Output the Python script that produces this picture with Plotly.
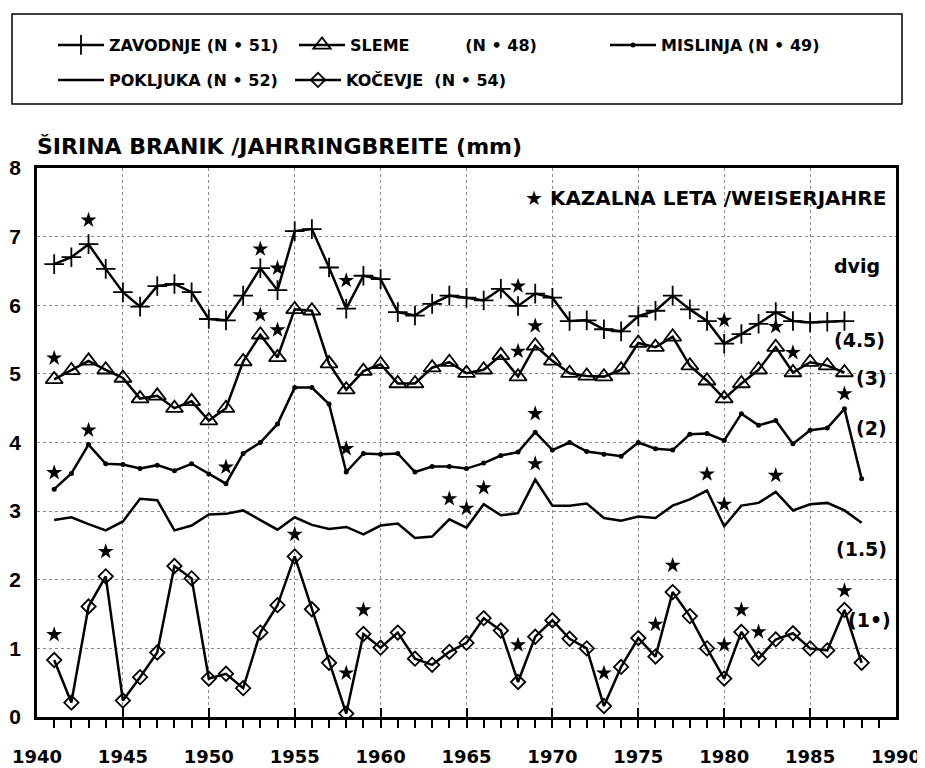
import plotly.graph_objects as go

# ---------------- data ----------------
years_a = list(range(1941, 1988))   # 1941..1987
years_b = list(range(1941, 1989))   # 1941..1988

zavodnje = [6.60, 6.70, 6.89, 6.53, 6.19, 5.98, 6.28, 6.31, 6.19, 5.80,
            5.78, 6.14, 6.54, 6.22, 7.08, 7.11, 6.55, 5.95, 6.43, 6.38,
            5.90, 5.85, 6.02, 6.14, 6.11, 6.07, 6.24, 5.99, 6.17, 6.11,
            5.77, 5.78, 5.65, 5.62, 5.84, 5.92, 6.14, 5.94, 5.77, 5.44,
            5.58, 5.73, 5.90, 5.77, 5.75, 5.76, 5.77]
sleme = [4.92, 5.05, 5.19, 5.06, 4.94, 4.64, 4.68, 4.50, 4.60, 4.32,
         4.50, 5.18, 5.57, 5.24, 5.94, 5.92, 5.15, 4.77, 5.04, 5.14,
         4.86, 4.86, 5.09, 5.17, 5.01, 5.06, 5.27, 4.96, 5.41, 5.19,
         5.01, 4.97, 4.96, 5.06, 5.45, 5.39, 5.54, 5.12, 4.90, 4.64,
         4.86, 5.06, 5.39, 5.02, 5.17, 5.12, 5.02]
mislinja = [3.32, 3.55, 3.97, 3.69, 3.68, 3.62, 3.67, 3.59, 3.69, 3.54,
            3.40, 3.84, 4.00, 4.27, 4.80, 4.80, 4.56, 3.57, 3.84, 3.83,
            3.84, 3.57, 3.65, 3.65, 3.62, 3.70, 3.81, 3.86, 4.15, 3.89,
            4.00, 3.87, 3.83, 3.80, 4.00, 3.91, 3.89, 4.12, 4.13, 4.03,
            4.42, 4.25, 4.32, 3.98, 4.18, 4.21, 4.49, 3.47]
pokljuka = [2.87, 2.91, 2.81, 2.72, 2.85, 3.18, 3.16, 2.72, 2.79, 2.95,
            2.96, 3.01, 2.87, 2.73, 2.91, 2.80, 2.74, 2.77, 2.66, 2.79,
            2.82, 2.61, 2.63, 2.88, 2.76, 3.10, 2.94, 2.97, 3.46, 3.08,
            3.08, 3.11, 2.90, 2.86, 2.92, 2.90, 3.08, 3.17, 3.30, 2.78,
            3.08, 3.12, 3.28, 3.01, 3.10, 3.12, 3.01, 2.83]
kocevje = [0.83, 0.21, 1.61, 2.05, 0.24, 0.58, 0.94, 2.20, 2.02, 0.56,
           0.63, 0.42, 1.23, 1.63, 2.34, 1.57, 0.79, 0.05, 1.21, 1.01,
           1.23, 0.85, 0.76, 0.95, 1.08, 1.44, 1.26, 0.51, 1.17, 1.41,
           1.14, 1.00, 0.16, 0.73, 1.15, 0.88, 1.82, 1.47, 1.00, 0.56,
           1.24, 0.85, 1.13, 1.22, 1.00, 0.97, 1.56, 0.79]

# pointer years (stars)
star_years = [1943, 1953, 1954, 1958, 1968, 1980,
              1941, 1953, 1954, 1968, 1969, 1983, 1984,
              1941, 1943, 1951, 1958, 1969, 1987,
              1964, 1965, 1966, 1969, 1979, 1980, 1983,
              1941, 1944, 1955, 1958, 1959, 1968, 1973, 1976, 1977, 1980, 1981, 1982, 1987]
star_values = [7.24, 6.82, 6.54, 6.36, 6.28, 5.78,
               5.23, 5.86, 5.64, 5.33, 5.70, 5.69, 5.31,
               3.56, 4.18, 3.64, 3.91, 4.42, 4.71,
               3.18, 3.04, 3.34, 3.69, 3.54, 3.10, 3.52,
               1.20, 2.41, 2.66, 0.64, 1.56, 1.05, 0.64, 1.35, 2.21, 1.05, 1.56, 1.24, 1.84]

NB = "\u00a0"
series_names = ["ZAVODNJE (N • 51)", "SLEME" + NB * 10 + "(N • 48)",
                "MISLINJA (N • 49)", "POKLJUKA (N • 52)", "KOČEVJE" + NB * 2 + "(N • 54)"]
offset_labels = ["dvig", "(4.5)", "(3)", "(2)", "(1.5)", "(1•)"]
offset_label_x = [1989.2, 1989.5, 1989.6, 1989.6, 1989.6, 1989.8]
offset_label_y = [6.57, 5.49, 4.94, 4.21, 2.45, 1.41]

x_ticks = list(range(1940, 1991, 5))
y_ticks = list(range(0, 9))

FONT = "Liberation Sans, Arial, Helvetica, sans-serif"
WIDE = "DejaVu Sans, Verdana, sans-serif"
# page body has an 8px margin, so the figure is sized to the visible area
W, H = 917, 760
L, R, T, B = 29, 29, 160, 51
PW, PH = W - L - R, H - T - B
OFF = 8  # page offset of the figure


def px_x(screen_x):   # screen pixel -> paper x
    return (screen_x - OFF - L) / PW


def px_y(screen_y):   # screen pixel -> paper y
    return (H - B - (screen_y - OFF)) / PH


fig = go.Figure()
LW = 2.5
fig.add_trace(go.Scatter(x=years_a, y=zavodnje, name=series_names[0], mode="lines+markers",
                         line=dict(color="black", width=LW),
                         marker=dict(symbol="cross-thin", size=14, color="black",
                                     line=dict(color="black", width=1.8)),
                         legend="legend"))
fig.add_trace(go.Scatter(x=years_a, y=sleme, name=series_names[1], mode="lines+markers",
                         line=dict(color="black", width=LW),
                         marker=dict(symbol="triangle-up-open", size=15, color="black",
                                     line=dict(color="black", width=1.8)),
                         legend="legend2"))
fig.add_trace(go.Scatter(x=years_b, y=mislinja, name=series_names[2], mode="lines+markers",
                         line=dict(color="black", width=LW),
                         marker=dict(symbol="circle", size=5, color="black"),
                         legend="legend3"))
fig.add_trace(go.Scatter(x=years_b, y=pokljuka, name=series_names[3], mode="lines",
                         line=dict(color="black", width=LW),
                         legend="legend4"))
fig.add_trace(go.Scatter(x=years_b, y=kocevje, name=series_names[4], mode="lines+markers",
                         line=dict(color="black", width=LW),
                         marker=dict(symbol="diamond-open", size=11, color="black",
                                     line=dict(color="black", width=1.8)),
                         legend="legend5"))
fig.add_trace(go.Scatter(x=star_years, y=star_values, mode="markers", showlegend=False,
                         marker=dict(symbol="star", size=12, color="black"),
                         hoverinfo="skip"))

# offset labels on the right
for txt, xv, yv in zip(offset_labels, offset_label_x, offset_label_y):
    fig.add_annotation(x=xv, y=yv, xref="x", yref="y", text=txt, showarrow=False,
                       xanchor="right", yanchor="middle",
                       font=dict(family=WIDE, size=19, color="black", weight="bold"))

fig.add_annotation(x=px_x(888), y=px_y(198), xref="paper", yref="paper",
                   text="★ KAZALNA LETA /WEISERJAHRE", showarrow=False,
                   xanchor="right", yanchor="middle",
                   font=dict(family=WIDE, size=20, color="black", weight="bold"))
fig.add_annotation(x=px_x(35), y=px_y(146), xref="paper", yref="paper",
                   text="ŠIRINA BRANIK /JAHRRINGBREITE (mm)", showarrow=False,
                   xanchor="left", yanchor="middle",
                   font=dict(family=WIDE, size=22, color="black", weight="bold"))

# legend frame
fig.add_shape(type="rect", xref="paper", yref="paper",
              x0=px_x(12), x1=px_x(902), y0=px_y(104), y1=px_y(14),
              line=dict(color="black", width=1.5), fillcolor="rgba(0,0,0,0)")

leg_font = dict(family=WIDE, size=16, color="black", weight="bold")


def leg(screen_x, screen_y):
    return dict(xref="container", yref="container",
                x=(screen_x - OFF) / W, y=1 - (screen_y - OFF) / H,
                xanchor="left", yanchor="middle", bgcolor="rgba(0,0,0,0)",
                borderwidth=0, font=leg_font, itemwidth=46)


fig.update_layout(
    width=W, height=H,
    margin=dict(l=L, r=R, t=T, b=B, autoexpand=False),
    paper_bgcolor="white", plot_bgcolor="white",
    legend=leg(53, 45),
    legend2=leg(294, 45),
    legend3=leg(605, 45),
    legend4=leg(53, 80),
    legend5=leg(290, 80),
    xaxis=dict(range=[1940, 1990], tickvals=x_ticks, ticks="inside", ticklen=9,
               tickwidth=2, tickcolor="black",
               minor=dict(ticks="outside", dtick=1, ticklen=8, tickwidth=1.5, tickcolor="black",
                          showgrid=False),
               showline=True, linecolor="black", linewidth=2.5, mirror=True,
               showgrid=True, gridcolor="#8a8a8a", griddash="dot", gridwidth=1,
               zeroline=False, ticklabelstandoff=22,
               tickfont=dict(family=WIDE, size=18, color="black", weight="bold")),
    yaxis=dict(range=[0, 8], tickvals=y_ticks, ticks="",
               showline=True, linecolor="black", linewidth=2.5, mirror=True,
               showgrid=True, gridcolor="#8a8a8a", griddash="dot", gridwidth=1,
               zeroline=False, ticklabelstandoff=9,
               tickfont=dict(family=FONT, size=21, color="black", weight="bold")),
)

fig.write_html("out.html")
